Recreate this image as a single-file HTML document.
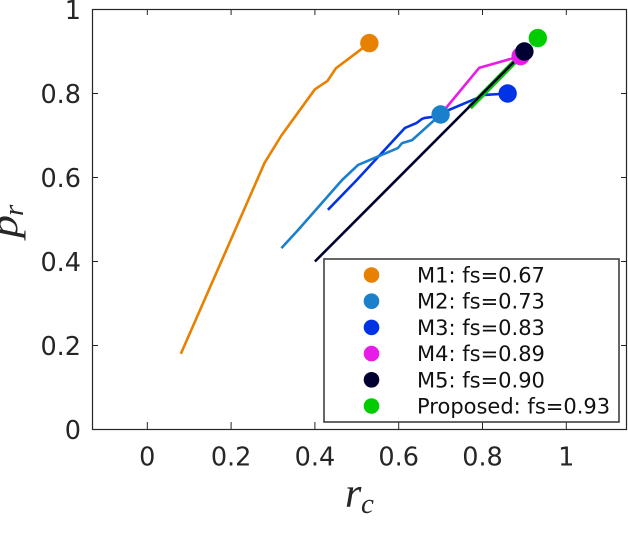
<!DOCTYPE html>
<html>
<head>
<meta charset="utf-8">
<title>Precision-recall chart</title>
<style>
html,body{margin:0;padding:0;background:#fff;width:628px;height:548px;overflow:hidden}
svg{display:block}
text{font-family:"DejaVu Sans","Liberation Sans",sans-serif}
.math{font-family:"Liberation Serif",serif;font-style:italic;fill:#262626}
</style>
</head>
<body>
<svg id="chart" width="628" height="548" viewBox="0 0 628 548" xmlns="http://www.w3.org/2000/svg"></svg>
<script>
const xTicks = [0, 0.2, 0.4, 0.6, 0.8, 1];
const xTickLabels = ['0', '0.2', '0.4', '0.6', '0.8', '1'];
const yTicks = [0, 0.2, 0.4, 0.6, 0.8, 1];
const yTickLabels = ['0', '0.2', '0.4', '0.6', '0.8', '1'];

const m1X = [0.08, 0.28, 0.32, 0.40, 0.43, 0.45, 0.53];
const m1Y = [0.18, 0.635, 0.70, 0.81, 0.83, 0.86, 0.92];
const m2X = [0.32, 0.36, 0.465, 0.503, 0.598, 0.608, 0.632, 0.70];
const m2Y = [0.432, 0.475, 0.594, 0.63, 0.67, 0.682, 0.689, 0.75];
const m3X = [0.431, 0.50, 0.615, 0.643, 0.655, 0.662, 0.68, 0.787, 0.796, 0.86];
const m3Y = [0.523, 0.594, 0.718, 0.73, 0.739, 0.742, 0.744, 0.789, 0.796, 0.80];
const m4X = [0.70, 0.792, 0.891];
const m4Y = [0.75, 0.861, 0.889];
const m5X = [0.40, 0.90];
const m5Y = [0.40, 0.90];
const proposedX = [0.77, 0.885];
const proposedY = [0.767, 0.884];

const markerX = [0.53, 0.70, 0.86, 0.891, 0.90, 0.932];
const markerY = [0.92, 0.75, 0.80, 0.889, 0.90, 0.932];
const seriesNames = ['M1', 'M2', 'M3', 'M4', 'M5', 'Proposed'];
const seriesScores = ['0.67', '0.73', '0.83', '0.89', '0.90', '0.93'];
const seriesColors = ['#e88000', '#1a80cc', '#0033e6', '#e81ce8', '#000033', '#00cc00'];

const NS = 'http://www.w3.org/2000/svg';
const svg = document.getElementById('chart');
const axX = v => 147.3 + 419 * v;
const axY = v => 429.5 - 420 * v;

function make(tag, attrs, text) {
  const el = document.createElementNS(NS, tag);
  for (const k in attrs) el.setAttribute(k, attrs[k]);
  if (text !== undefined) el.textContent = text;
  svg.appendChild(el);
  return el;
}

const plotBox = make('rect', {x: 92.5, y: 9.5, width: 534, height: 420, fill: '#fff', stroke: '#262626', 'stroke-width': 1.2});



xTicks.forEach((v, i) => {
  const bottomTick = make('line', {x1: axX(v), x2: axX(v), y1: 429.5, y2: 422, stroke: '#262626', 'stroke-width': 1});
  
  
  const topTick = make('line', {x1: axX(v), x2: axX(v), y1: 9.5, y2: 15, stroke: '#262626', 'stroke-width': 1});
  
  
  const label = make('text', {x: axX(v), y: 465.5, 'text-anchor': 'middle', 'font-size': 25.5, fill: '#262626'}, xTickLabels[i]);
  
  
});

yTicks.forEach((v, i) => {
  const leftTick = make('line', {x1: 92.5, x2: 98, y1: axY(v), y2: axY(v), stroke: '#262626', 'stroke-width': 1});
  
  
  const rightTick = make('line', {x1: 626.5, x2: 621, y1: axY(v), y2: axY(v), stroke: '#262626', 'stroke-width': 1});
  
  
  const label = make('text', {x: 81, y: axY(v) + 9.5, 'text-anchor': 'end', 'font-size': 25.5, fill: '#262626'}, yTickLabels[i]);
  
  
});

const lineXs = [m1X, m2X, m3X, m4X, m5X, proposedX];
const lineYs = [m1Y, m2Y, m3Y, m4Y, m5Y, proposedY];
const drawOrder = [0, 2, 1, 3, 5, 4];
const lineWidths = [2.6, 2.6, 2.6, 2.6, 2.6, 5.4];

drawOrder.forEach(i => {
  const pts = lineXs[i].map((x, j) => axX(x).toFixed(1) + ',' + axY(lineYs[i][j]).toFixed(1)).join(' ');
  const line = make('polyline', {points: pts, fill: 'none', stroke: seriesColors[i], 'stroke-width': lineWidths[i], 'stroke-linejoin': 'round'});
  
  
});

[0, 2, 1, 3, 5, 4].forEach(i => {
  const marker = make('circle', {cx: axX(markerX[i]), cy: axY(markerY[i]), r: 9.2, fill: seriesColors[i]});
  
  
});

const legendBox = make('rect', {x: 324, y: 259, width: 295, height: 163, fill: '#fff', stroke: '#404040', 'stroke-width': 1.6});



seriesNames.forEach((name, i) => {
  const rowY = 275 + i * 26.2;
  const dot = make('circle', {cx: 371.5, cy: rowY, r: 7.8, fill: seriesColors[i]});
  
  
  const label = make('text', {x: 417, y: rowY + 7.5, 'font-size': 21, fill: '#111'}, name + ': fs=' + seriesScores[i]);
  
  
});

const xTitle = make('text', {class: 'math', x: 345, y: 507, 'font-size': 42}, 'r');


const xSub = make('text', {class: 'math', x: 361, y: 513, 'font-size': 29}, 'c');



const yTitle = make('text', {class: 'math', transform: 'translate(17,238) rotate(-90) scale(1.15,1)', 'font-size': 40}, 'p');


const ySub = make('text', {class: 'math', transform: 'translate(23,216) rotate(-90)', 'font-size': 29}, 'r');



const capA = make('text', {x: 142, y: 566.5, 'font-size': 26, fill: '#222', style: 'font-family:"Liberation Serif",serif'});
capA.innerHTML = '(<tspan font-size="20">a</tspan>)';


const capB = make('text', {x: 290, y: 566.5, 'font-size': 26, fill: '#222', style: 'font-family:"Liberation Serif",serif'});
capB.innerHTML = '(<tspan font-size="20" dy="3">b</tspan><tspan dy="-3">)</tspan>';


</script>
</body>
</html>
